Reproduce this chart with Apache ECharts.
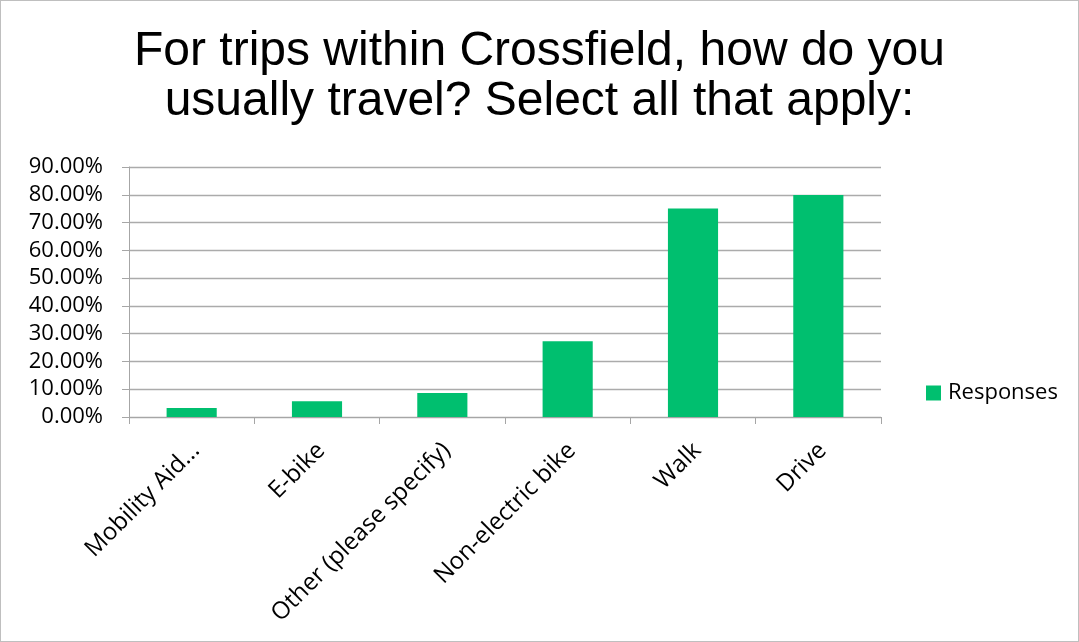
<!DOCTYPE html>
<html><head><meta charset="utf-8">
<script src="https://cdn.jsdelivr.net/npm/echarts@6/dist/echarts.min.js"></script>
<style>html,body{margin:0;padding:0;background:#fff}#c{width:1079px;height:642px;box-sizing:border-box;border:1px solid #bfbfbf}</style>
</head><body><div id="c"></div>
<script>
const categories = ["Mobility Aid...", "E-bike", "Other (please specify)", "Non-electric bike", "Walk", "Drive"];
const responses = [0.032, 0.057, 0.086, 0.273, 0.751, 0.799];
const titleText = "For trips within Crossfield, how do you\nusually travel? Select all that apply:";
const seriesName = "Responses";

const chart = echarts.init(document.getElementById('c'));
chart.setOption({
  animation: false,
  title: {
    text: titleText, left: 'center', top: 21,
    textStyle: {fontFamily: 'Liberation Sans', fontSize: 48, fontWeight: 'normal', color: '#000', lineHeight: 50}
  },
  legend: {
    data: [seriesName], orient: 'vertical', left: 920, top: 376,
    itemWidth: 15, itemHeight: 15, icon: 'rect', itemGap: 8,
    textStyle: {fontFamily: 'Open Sans', fontSize: 22, color: '#000', padding: [0, 0, 0, 2]}
  },
  grid: {left: 128, right: 197, top: 166, bottom: 224},
  xAxis: {
    type: 'category', data: categories,
    axisLine: {lineStyle: {color: '#a6a6a6'}},
    axisTick: {show: true, length: 7, lineStyle: {color: '#a6a6a6'}},
    axisLabel: {rotate: 45, interval: 0, fontFamily: 'Open Sans', fontSize: 24, color: '#000', margin: 34, padding: [0, -6, 0, 0]}
  },
  yAxis: {
    type: 'value', min: 0, max: 0.9, interval: 0.1,
    axisLine: {show: true, lineStyle: {color: '#a6a6a6'}},
    axisTick: {show: true, length: 7, lineStyle: {color: '#a6a6a6'}},
    splitLine: {lineStyle: {color: '#ababab', width: 1.3}},
    axisLabel: {formatter: v => (v * 100).toFixed(2) + '%', fontFamily: 'Open Sans', fontSize: 22, color: '#000', margin: 26}
  },
  series: [{
    name: seriesName, type: 'bar', data: responses, barWidth: '40%',
    itemStyle: {color: '#00bf6f'}
  }]
});
</script></body></html>
